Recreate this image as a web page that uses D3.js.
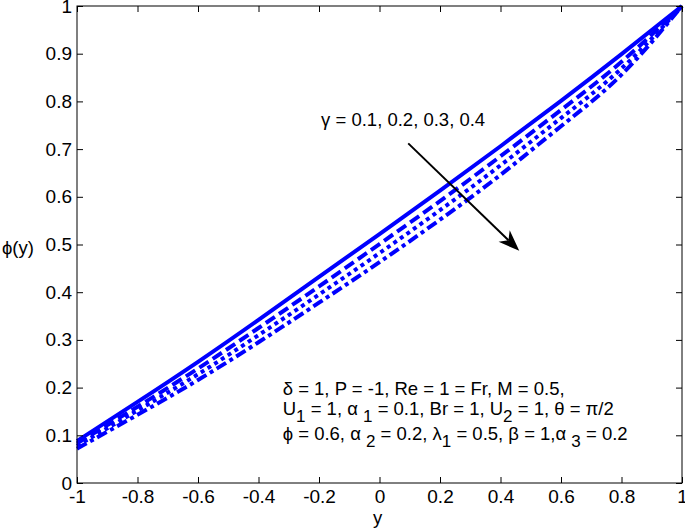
<!DOCTYPE html>
<html>
<head>
<meta charset="utf-8">
<script src="https://cdn.jsdelivr.net/npm/d3@7"></script>
<style>
  body { margin: 0; background: #fff; }
  svg { display: block; font-family: Arial, "Liberation Sans", Helvetica, sans-serif; }
</style>
</head>
<body>
<svg id="chart"></svg>
<script>
const w = 685;
const h = 532;
const margin = {top: 6, right: 3, bottom: 49, left: 77};

// y positions across the channel
const ys = [-1, -0.8, -0.6, -0.4, -0.2, 0, 0.2, 0.4, 0.6, 0.8, 1];

// phi(y) for gamma = 0.1, 0.2, 0.3, 0.4
const phiG1 = [0.088, 0.170, 0.254, 0.342, 0.432, 0.522, 0.613, 0.706, 0.801, 0.899, 1.0];
const phiG2 = [0.083, 0.160, 0.240, 0.325, 0.412, 0.501, 0.591, 0.685, 0.782, 0.883, 1.0];
const phiG3 = [0.078, 0.152, 0.228, 0.310, 0.395, 0.482, 0.572, 0.666, 0.765, 0.869, 1.0];
const phiG4 = [0.072, 0.143, 0.216, 0.295, 0.378, 0.463, 0.552, 0.646, 0.748, 0.856, 1.0];

const xTicks = [-1, -0.8, -0.6, -0.4, -0.2, 0, 0.2, 0.4, 0.6, 0.8, 1];
const xTickLabels = ["-1", "-0.8", "-0.6", "-0.4", "-0.2", "0", "0.2", "0.4", "0.6", "0.8", "1"];
const yTicks = [0, 0.1, 0.2, 0.3, 0.4, 0.5, 0.6, 0.7, 0.8, 0.9, 1];
const yTickLabels = ["0", "0.1", "0.2", "0.3", "0.4", "0.5", "0.6", "0.7", "0.8", "0.9", "1"];

const series = [
  {vals: phiG1, dash: null},
  {vals: phiG2, dash: "11,5"},
  {vals: phiG3, dash: "4,4"},
  {vals: phiG4, dash: "11,4,4,4"}
];

const fs = 18.5;

let svg = d3.select("#chart")
            .attr("width", w)
            .attr("height", h);

let xScale = d3.scaleLinear()
               .domain([-1, 1])
               .range([margin.left, w - margin.right]);
let yScale = d3.scaleLinear()
               .domain([0, 1])
               .range([h - margin.bottom, margin.top]);

// draw lines
let line = d3.line()
             .x((d, i) => xScale(ys[i]))
             .y(d => yScale(d))
             .curve(d3.curveNatural);

svg.selectAll("path.series")
   .data(series)
   .enter()
   .append("path")
   .attr("class", "series")
   .attr("d", s => line(s.vals))
   .attr("fill", "none")
   .attr("stroke", "#0000ff")
   .attr("stroke-width", 4)
   .attr("stroke-dasharray", s => s.dash);

// axes, ticks pointing inward
let xAxis = d3.axisBottom(xScale)
              .tickValues(xTicks)
              .tickFormat((d, i) => xTickLabels[i])
              .tickSizeInner(-6)
              .tickSizeOuter(0)
              .tickPadding(7);
let yAxis = d3.axisLeft(yScale)
              .tickValues(yTicks)
              .tickFormat((d, i) => yTickLabels[i])
              .tickSizeInner(-6)
              .tickSizeOuter(0)
              .tickPadding(5);

svg.append("g")
   .attr("transform", `translate(0, ${h - margin.bottom})`)
   .call(xAxis);
svg.append("g")
   .attr("transform", `translate(${margin.left}, 0)`)
   .call(yAxis);
svg.append("g")
   .attr("transform", `translate(0, ${margin.top})`)
   .call(d3.axisTop(xScale).tickValues(xTicks).tickFormat("").tickSizeInner(-6).tickSizeOuter(0));
svg.append("g")
   .attr("transform", `translate(${w - margin.right}, 0)`)
   .call(d3.axisRight(yScale).tickValues(yTicks).tickFormat("").tickSizeInner(-6).tickSizeOuter(0));

svg.selectAll(".domain").remove();
svg.selectAll(".tick line").attr("stroke", "#000");
svg.selectAll(".tick text")
   .attr("font-size", 19)
   .attr("font-family", "Arial, 'Liberation Sans', sans-serif")
   .attr("fill", "#000");

// frame
svg.append("rect")
   .attr("x", margin.left)
   .attr("y", margin.top)
   .attr("width", w - margin.left - margin.right)
   .attr("height", h - margin.top - margin.bottom)
   .attr("fill", "none")
   .attr("stroke", "#000")
   .attr("stroke-width", 1);

// axis labels
svg.append("text")
   .attr("x", xScale(0) - 2)
   .attr("y", h - 8)
   .attr("text-anchor", "middle")
   .attr("font-size", fs)
   .text("y");
svg.append("text")
   .attr("x", 2)
   .attr("y", 254)
   .attr("font-size", fs)
   .text("\u03d5(y)");

// arrow for increasing gamma
const arrowFrom = [0.095, 0.712];
const arrowTo = [0.462, 0.487];
let ax0 = xScale(arrowFrom[0]), ay0 = yScale(arrowFrom[1]);
let ax1 = xScale(arrowTo[0]), ay1 = yScale(arrowTo[1]);
let ang = Math.atan2(ay1 - ay0, ax1 - ax0);
let headLen = 21, headW = 8, notch = 15;
svg.append("line")
   .attr("x1", ax0).attr("y1", ay0)
   .attr("x2", ax1 - notch * Math.cos(ang)).attr("y2", ay1 - notch * Math.sin(ang))
   .attr("stroke", "#000")
   .attr("stroke-width", 2);
let bx = ax1 - headLen * Math.cos(ang), by = ay1 - headLen * Math.sin(ang);
let nx = ax1 - notch * Math.cos(ang), ny = ay1 - notch * Math.sin(ang);
svg.append("path")
   .attr("d", `M${ax1},${ay1} L${bx - headW * Math.sin(ang)},${by + headW * Math.cos(ang)} L${nx},${ny} L${bx + headW * Math.sin(ang)},${by - headW * Math.cos(ang)} Z`)
   .attr("fill", "#000");

svg.append("text")
   .attr("x", xScale(-0.193))
   .attr("y", yScale(0.748))
   .attr("font-size", fs)
   .text("\u03b3 = 0.1, 0.2, 0.3, 0.4");

// parameter annotation
let note = svg.append("g")
              .attr("font-size", fs)
              .attr("fill", "#000");
let nx0 = xScale(-0.32);

note.append("text")
    .attr("x", nx0).attr("y", yScale(0.184))
    .text("\u03b4 = 1, P = -1, Re = 1 = Fr, M = 0.5,");

function sub(t, main, s, after) {
  t.append("tspan").text(main);
  t.append("tspan").attr("dy", 7).attr("font-size", fs * 0.92).text(s);
  t.append("tspan").attr("dy", -7).text(after);
}

let l2 = note.append("text").attr("x", nx0).attr("y", yScale(0.142));
sub(l2, "U", "1", " = 1, ");
sub(l2, "\u03b1 ", "1", " = 0.1, Br = 1, ");
sub(l2, "U", "2", " = 1, \u03b8 = \u03c0/2");

let l3 = note.append("text").attr("x", nx0).attr("y", yScale(0.090));
l3.append("tspan").text("\u03d5 = 0.6, ");
sub(l3, "\u03b1 ", "2", " = 0.2, ");
sub(l3, "\u03bb", "1", " = 0.5, \u03b2 = 1,");
sub(l3, "\u03b1 ", "3", " = 0.2");
</script>
</body>
</html>
